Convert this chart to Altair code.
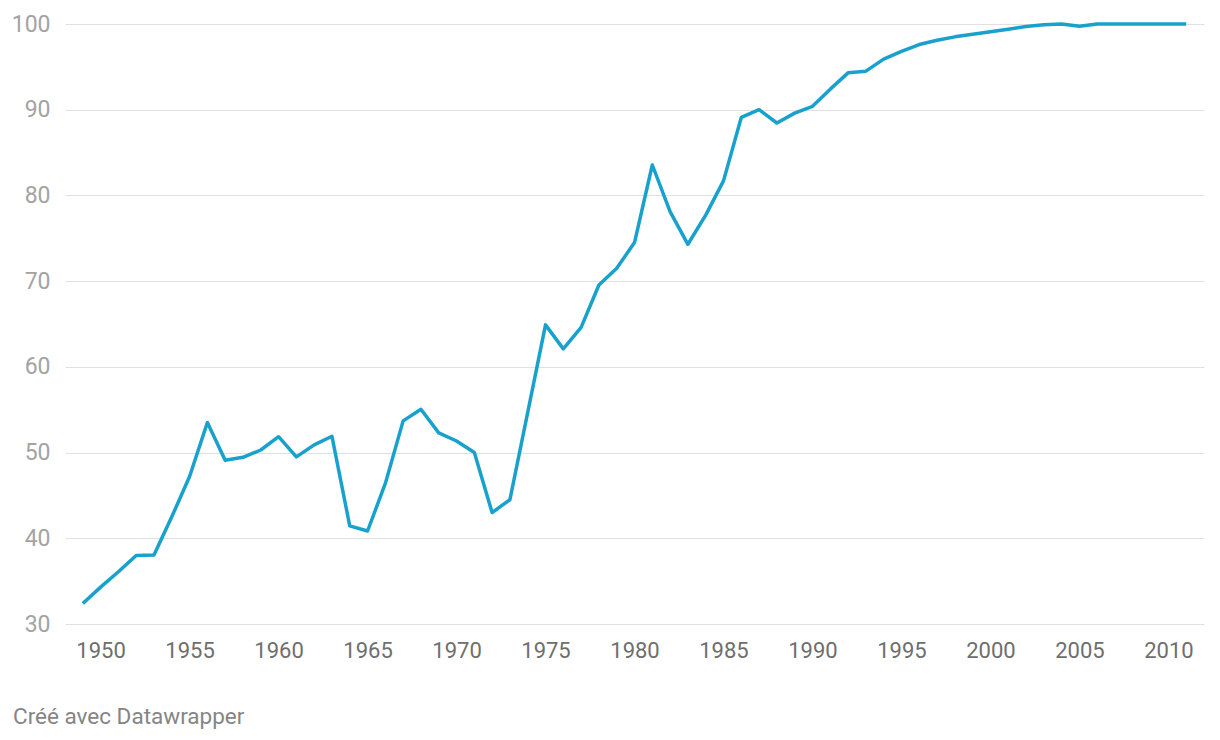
import altair as alt
import pandas as pd

years = list(range(1949, 2012))
values = [
    32.4, 34.3, 36.1, 38.0, 38.05, 42.5, 47.2, 53.5, 49.1, 49.45,
    50.3, 51.85, 49.5, 50.9, 51.9, 41.45, 40.85, 46.4, 53.7, 55.05,
    52.3, 51.35, 50.0, 43.0, 44.5, 54.7, 64.9, 62.1, 64.6, 69.55,
    71.5, 74.5, 83.55, 78.1, 74.3, 77.7, 81.7, 89.1, 90.0, 88.45,
    89.6, 90.4, 92.4, 94.3, 94.5, 95.9, 96.8, 97.6, 98.1, 98.5,
    98.8, 99.1, 99.4, 99.7, 99.9, 100.0, 99.75, 100.0, 100.0, 100.0,
    100.0, 100.0, 100.0,
]
x_ticks = [1950, 1955, 1960, 1965, 1970, 1975, 1980, 1985, 1990, 1995, 2000, 2005, 2010]
y_ticks = [30, 40, 50, 60, 70, 80, 90, 100]
credit = "Créé avec Datawrapper"

df = pd.DataFrame({"year": years, "value": values})

line = alt.Chart(df).mark_line(color="#18a1cd", strokeWidth=3.5, strokeJoin="round").encode(
    x=alt.X("year:Q",
            scale=alt.Scale(domain=[1948, 2012], nice=False, zero=False),
            axis=alt.Axis(values=x_ticks, format="d", title=None, grid=False,
                          domain=False, ticks=False, labelPadding=16,
                          labelFontSize=22, labelColor="#6e6e6e", labelFont="Roboto")),
    y=alt.Y("value:Q",
            scale=alt.Scale(domain=[30, 100], nice=False, zero=False),
            axis=alt.Axis(values=y_ticks, title=None, grid=True, gridColor="#e0e0e0",
                          gridWidth=1, domain=False, ticks=False, labelPadding=15,
                          labelFontSize=23, labelColor="#a3a3a3", labelFont="Roboto",
                          labelBaseline="middle")),
)

caption = alt.Chart(pd.DataFrame({"t": [credit]})).mark_text(
    align="left", baseline="middle", font="Roboto", fontSize=22.5, color="#858585"
).encode(
    text="t:N",
    x=alt.value(-52),
    y=alt.value(693),
)

chart = alt.layer(line, caption).properties(
    width=1139, height=600,
    autosize=alt.AutoSizeParams(type="none"),
    padding={"left": 57, "top": 16, "right": 8, "bottom": 108},
).configure_view(stroke=None)

chart.save("out.html", embed_options={"renderer": "svg", "actions": False})
